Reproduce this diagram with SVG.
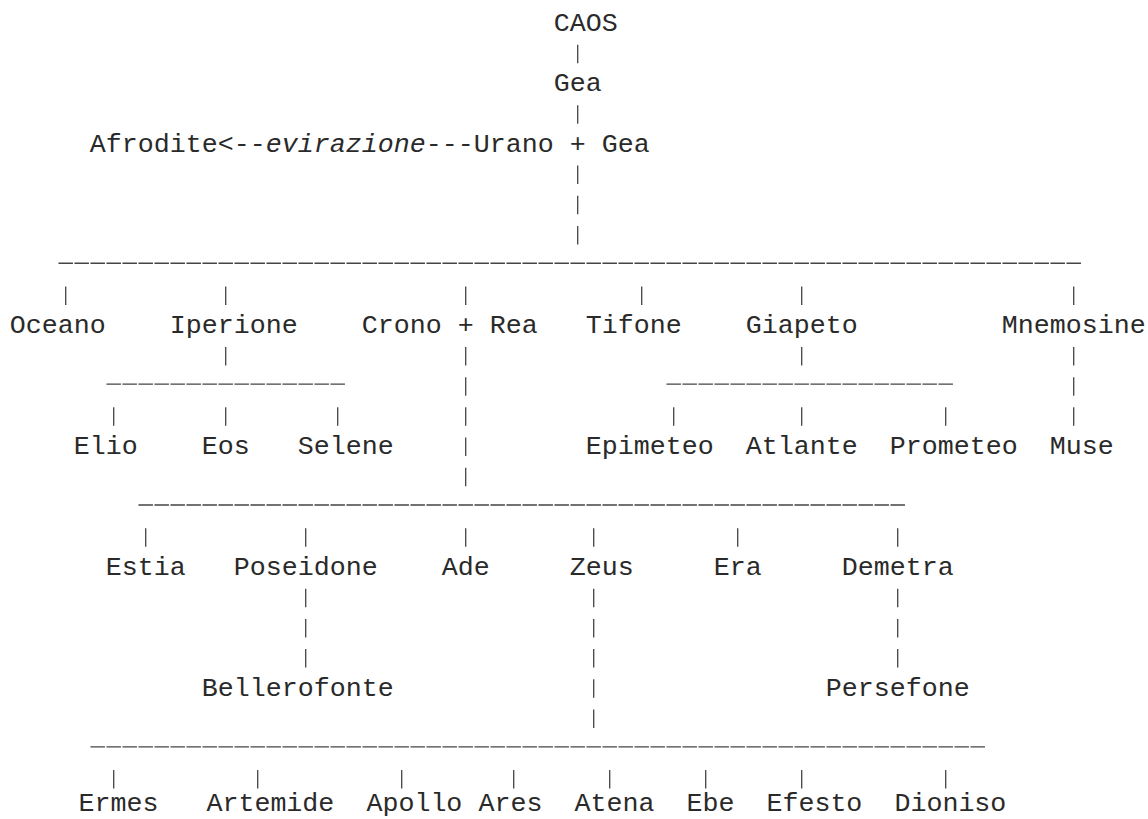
<svg xmlns="http://www.w3.org/2000/svg" width="1148" height="819" viewBox="0 0 1148 819">
<style>
text{font-family:"Liberation Mono","Courier New",monospace;font-size:26.67px;fill:#2a2a2a;}
.it{font-style:italic;}
.v{stroke:#444;stroke-width:1.3;}
.h{stroke:#444;stroke-width:1.3;stroke-dasharray:14.5 1.5;}
</style>
<rect width="1148" height="819" fill="#fff"/>
<g id="connectors">
<text x="217.7" y="151.88">&lt;--<tspan class="it">evirazione</tspan>---</text>
<g id="bars">
<line class="v" x1="577.7" y1="44.72" x2="577.7" y2="63.22"/>
<line class="v" x1="577.7" y1="105.16" x2="577.7" y2="123.66"/>
<line class="v" x1="577.7" y1="165.6" x2="577.7" y2="184.1"/>
<line class="v" x1="577.7" y1="195.82" x2="577.7" y2="214.32"/>
<line class="v" x1="577.7" y1="226.04" x2="577.7" y2="244.54"/>
<line class="h" x1="58.45" y1="263.26" x2="1080.95" y2="263.26"/>
<line class="v" x1="65.7" y1="286.48" x2="65.7" y2="304.98"/>
<line class="v" x1="225.7" y1="286.48" x2="225.7" y2="304.98"/>
<line class="v" x1="465.7" y1="286.48" x2="465.7" y2="304.98"/>
<line class="v" x1="641.7" y1="286.48" x2="641.7" y2="304.98"/>
<line class="v" x1="801.7" y1="286.48" x2="801.7" y2="304.98"/>
<line class="v" x1="1073.7" y1="286.48" x2="1073.7" y2="304.98"/>
<line class="v" x1="225.7" y1="346.92" x2="225.7" y2="365.42"/>
<line class="v" x1="465.7" y1="346.92" x2="465.7" y2="365.42"/>
<line class="v" x1="801.7" y1="346.92" x2="801.7" y2="365.42"/>
<line class="v" x1="1073.7" y1="346.92" x2="1073.7" y2="365.42"/>
<line class="h" x1="106.45" y1="384.14" x2="344.95" y2="384.14"/>
<line class="h" x1="666.45" y1="384.14" x2="952.95" y2="384.14"/>
<line class="v" x1="465.7" y1="377.14" x2="465.7" y2="395.64"/>
<line class="v" x1="1073.7" y1="377.14" x2="1073.7" y2="395.64"/>
<line class="v" x1="113.7" y1="407.36" x2="113.7" y2="425.86"/>
<line class="v" x1="225.7" y1="407.36" x2="225.7" y2="425.86"/>
<line class="v" x1="337.7" y1="407.36" x2="337.7" y2="425.86"/>
<line class="v" x1="465.7" y1="407.36" x2="465.7" y2="425.86"/>
<line class="v" x1="673.7" y1="407.36" x2="673.7" y2="425.86"/>
<line class="v" x1="801.7" y1="407.36" x2="801.7" y2="425.86"/>
<line class="v" x1="945.7" y1="407.36" x2="945.7" y2="425.86"/>
<line class="v" x1="1073.7" y1="407.36" x2="1073.7" y2="425.86"/>
<line class="v" x1="465.7" y1="437.58" x2="465.7" y2="456.08"/>
<line class="v" x1="465.7" y1="467.8" x2="465.7" y2="486.3"/>
<line class="h" x1="138.45" y1="505.02" x2="904.95" y2="505.02"/>
<line class="v" x1="145.7" y1="528.24" x2="145.7" y2="546.74"/>
<line class="v" x1="305.7" y1="528.24" x2="305.7" y2="546.74"/>
<line class="v" x1="465.7" y1="528.24" x2="465.7" y2="546.74"/>
<line class="v" x1="593.7" y1="528.24" x2="593.7" y2="546.74"/>
<line class="v" x1="737.7" y1="528.24" x2="737.7" y2="546.74"/>
<line class="v" x1="897.7" y1="528.24" x2="897.7" y2="546.74"/>
<line class="v" x1="305.7" y1="588.68" x2="305.7" y2="607.18"/>
<line class="v" x1="593.7" y1="588.68" x2="593.7" y2="607.18"/>
<line class="v" x1="897.7" y1="588.68" x2="897.7" y2="607.18"/>
<line class="v" x1="305.7" y1="618.9" x2="305.7" y2="637.4"/>
<line class="v" x1="593.7" y1="618.9" x2="593.7" y2="637.4"/>
<line class="v" x1="897.7" y1="618.9" x2="897.7" y2="637.4"/>
<line class="v" x1="305.7" y1="649.12" x2="305.7" y2="667.62"/>
<line class="v" x1="593.7" y1="649.12" x2="593.7" y2="667.62"/>
<line class="v" x1="897.7" y1="649.12" x2="897.7" y2="667.62"/>
<line class="v" x1="593.7" y1="679.34" x2="593.7" y2="697.84"/>
<line class="v" x1="593.7" y1="709.56" x2="593.7" y2="728.06"/>
<line class="h" x1="90.45" y1="746.78" x2="984.95" y2="746.78"/>
<line class="v" x1="113.7" y1="770" x2="113.7" y2="788.5"/>
<line class="v" x1="257.7" y1="770" x2="257.7" y2="788.5"/>
<line class="v" x1="401.7" y1="770" x2="401.7" y2="788.5"/>
<line class="v" x1="513.7" y1="770" x2="513.7" y2="788.5"/>
<line class="v" x1="609.7" y1="770" x2="609.7" y2="788.5"/>
<line class="v" x1="705.7" y1="770" x2="705.7" y2="788.5"/>
<line class="v" x1="801.7" y1="770" x2="801.7" y2="788.5"/>
<line class="v" x1="945.7" y1="770" x2="945.7" y2="788.5"/>
</g>
</g>
<g id="caos"><text x="553.7" y="31">CAOS</text></g>
<g id="gea"><text x="553.7" y="91.44">Gea</text></g>
<g id="afrodite"><text x="89.7" y="151.88">Afrodite</text></g>
<g id="urano-gea"><text x="473.7" y="151.88">Urano + Gea</text></g>
<g id="oceano"><text x="9.7" y="333.2">Oceano</text></g>
<g id="iperione"><text x="169.7" y="333.2">Iperione</text></g>
<g id="crono-rea"><text x="361.7" y="333.2">Crono + Rea</text></g>
<g id="tifone"><text x="585.7" y="333.2">Tifone</text></g>
<g id="giapeto"><text x="745.7" y="333.2">Giapeto</text></g>
<g id="mnemosine"><text x="1001.7" y="333.2">Mnemosine</text></g>
<g id="elio"><text x="73.7" y="454.08">Elio</text></g>
<g id="eos"><text x="201.7" y="454.08">Eos</text></g>
<g id="selene"><text x="297.7" y="454.08">Selene</text></g>
<g id="epimeteo"><text x="585.7" y="454.08">Epimeteo</text></g>
<g id="atlante"><text x="745.7" y="454.08">Atlante</text></g>
<g id="prometeo"><text x="889.7" y="454.08">Prometeo</text></g>
<g id="muse"><text x="1049.7" y="454.08">Muse</text></g>
<g id="estia"><text x="105.7" y="574.96">Estia</text></g>
<g id="poseidone"><text x="233.7" y="574.96">Poseidone</text></g>
<g id="ade"><text x="441.7" y="574.96">Ade</text></g>
<g id="zeus"><text x="569.7" y="574.96">Zeus</text></g>
<g id="era"><text x="713.7" y="574.96">Era</text></g>
<g id="demetra"><text x="841.7" y="574.96">Demetra</text></g>
<g id="bellerofonte"><text x="201.7" y="695.84">Bellerofonte</text></g>
<g id="persefone"><text x="825.7" y="695.84">Persefone</text></g>
<g id="ermes"><text x="78.4" y="811">Ermes</text></g>
<g id="artemide"><text x="206.4" y="811">Artemide</text></g>
<g id="apollo"><text x="366.4" y="811">Apollo</text></g>
<g id="ares"><text x="478.4" y="811">Ares</text></g>
<g id="atena"><text x="574.4" y="811">Atena</text></g>
<g id="ebe"><text x="686.4" y="811">Ebe</text></g>
<g id="efesto"><text x="766.4" y="811">Efesto</text></g>
<g id="dioniso"><text x="894.4" y="811">Dioniso</text></g>
</svg>
